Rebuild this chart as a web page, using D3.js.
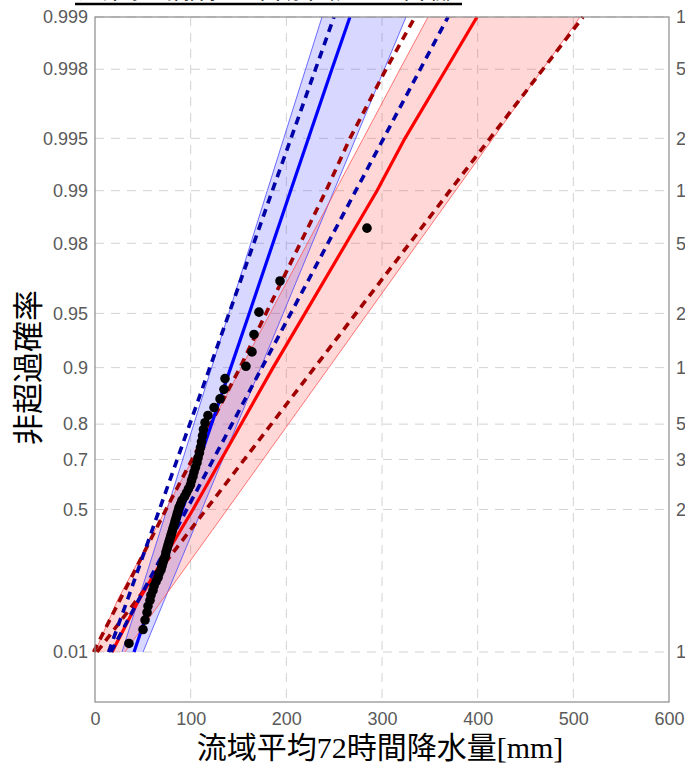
<!DOCTYPE html>
<html>
<head>
<meta charset="utf-8">
<script src="https://cdn.jsdelivr.net/npm/d3@7"></script>
<style>
  html, body { margin: 0; padding: 0; background: #fff; }
  svg { display: block; }
</style>
</head>
<body>
<svg id="chart" width="685" height="764"></svg>
<script>
// Non-exceedance probability levels at which the fitted curves are given
const probLevels = [0.01, 0.1, 0.5, 0.9, 0.95, 0.99, 0.995, 0.998, 0.999];

// Blue fit: central line, dashed pair, confidence band
const blueCenter  = [40.8, 59.3, 91.4, 141.9, 161.2, 204.5, 223.1, 247.6, 266.5];
const blueDashLo  = [14.2, 33.9, 67.4, 120.0, 140.1, 185.4, 204.9, 230.5, 249.8];
const blueDashHi  = [16.7, 45.6, 95.9, 174.5, 204.6, 272.6, 301.7, 340.0, 369.0];
const blueBandLo  = [28.2, 45.4, 75.2, 121.9, 139.8, 180.1, 197.3, 220.1, 237.3];
const blueBandHi  = [50.2, 72.6, 111.8, 173.2, 196.7, 249.8, 272.5, 302.4, 325.1];

// Red fit: central line, dashed pair, confidence band
const redCenter   = [17.8, 45.9, 102.4, 186.1, 219.5, 294.8, 324.0, 366.9, 399.3];
const redDashLo   = [-1.5, 26.1, 74.2, 151.6, 178.7, 241.5, 266.5, 304.2, 334.5];
const redDashHi   = [2.1, 43.7, 116.1, 229.5, 272.8, 371.0, 412.9, 468.2, 510.1];
const redBandLo   = [0.0, 23.7, 74.1, 152.9, 183.0, 251.3, 280.5, 318.8, 348.1];
const redBandHi   = [31.4, 70.3, 138.2, 244.4, 284.9, 376.8, 416.1, 467.9, 507.0];

// Observed annual maxima (sorted), plotted at i/(N+1)
const observed = [
  35.5, 50.2, 52.3, 54.4, 55.4, 57.5, 58.5, 60.6, 61.7, 63.8,
  65.9, 66.9, 69.0, 70.0, 71.1, 72.1, 73.7, 74.2, 75.3, 76.3,
  77.3, 78.4, 79.4, 80.5, 81.5, 82.6, 83.6, 84.7, 85.7, 86.8,
  87.8, 89.4, 90.9, 93.6, 95.6, 97.7, 99.8, 100.9, 102.4, 103.5,
  105.0, 106.6, 107.7, 109.2, 110.3, 111.3, 112.4, 113.4, 115.0, 118.1,
  124.4, 130.7, 134.8, 135.9, 157.8, 164.1, 166.2, 171.4, 193.4, 284.3
];

// Axis ticks
const probTicks = [0.01, 0.5, 0.7, 0.8, 0.9, 0.95, 0.98, 0.99, 0.995, 0.998, 0.999];
const probTickLabels = ["0.01", "0.5", "0.7", "0.8", "0.9", "0.95", "0.98", "0.99", "0.995", "0.998", "0.999"];
const returnPeriodLabels = ["1.01", "2", "3.3", "5", "10", "20", "50", "100", "200", "500", "1000"];
const xTicks = [0, 100, 200, 300, 400, 500, 600];

const titleText = "流域平均72時間降水量の確率分布（グンベル確率紙）";
const yTitle = "非超過確率";
const xTitle = "流域平均72時間降水量[mm]";

// Gumbel reduced variate
const gumbel = p => -Math.log(-Math.log(p));

const svg = d3.select("#chart");
const plotL = 95, plotR = 669, plotT = 17, plotB = 702;

const x = d3.scaleLinear().domain([0, 600]).range([plotL, plotR]);
const g = d3.scaleLinear().domain([-2.191, gumbel(0.999)]).range([plotB, plotT]);
const y = p => g(gumbel(p));

const tickFont = "'Liberation Sans', Arial, sans-serif";

// Grid
const grid = svg.append("g").attr("stroke", "#d2d2d2").attr("stroke-width", 1)
  .attr("stroke-dasharray", "9,7");
grid.selectAll("line.h").data(probTicks).join("line").attr("class", "h")
  .attr("x1", plotL).attr("x2", plotR)
  .attr("y1", d => y(d)).attr("y2", d => y(d));
grid.selectAll("line.v").data(xTicks.slice(1, -1)).join("line").attr("class", "v")
  .attr("x1", d => x(d)).attr("x2", d => x(d))
  .attr("y1", plotT).attr("y2", plotB);

// Bands
function band(lo, hi) {
  const pts = probLevels.map((p, i) => ({ p, lo: lo[i], hi: hi[i] }));
  return d3.area().x0(d => x(d.lo)).x1(d => x(d.hi)).y(d => y(d.p))(pts);
}
svg.append("path").attr("d", band(blueBandLo, blueBandHi))
  .attr("fill", "rgba(40,40,255,0.19)").attr("stroke", "none");
svg.append("path").attr("d", band(redBandLo, redBandHi))
  .attr("fill", "rgba(255,40,40,0.19)").attr("stroke", "none");

const lineGen = vals => d3.line().x(d => x(d[0])).y(d => y(d[1]))(vals.map((v, i) => [v, probLevels[i]]));

// Band outlines
[[blueBandLo, "#4a4aff"], [blueBandHi, "#4a4aff"], [redBandLo, "#ff5555"], [redBandHi, "#ff5555"]]
  .forEach(([vals, c]) => svg.append("path").attr("d", lineGen(vals))
    .attr("fill", "none").attr("stroke", c).attr("stroke-width", 0.8));

// Fitted lines
function drawLine(vals, color, width, dash) {
  const p = svg.append("path").attr("d", lineGen(vals))
    .attr("fill", "none").attr("stroke", color).attr("stroke-width", width);
  if (dash) p.attr("stroke-dasharray", dash);
}
drawLine(redDashLo, "#a00000", 3.6, "8,6");
drawLine(redDashHi, "#a00000", 3.6, "8,6");
drawLine(redCenter, "#ff0000", 3.2);
drawLine(blueDashLo, "#0000a8", 3.6, "8,6");
drawLine(blueDashHi, "#0000a8", 3.6, "8,6");
drawLine(blueCenter, "#0000ff", 3.2);

// Observations
const N = observed.length;
svg.append("g").selectAll("circle").data(observed).join("circle")
  .attr("cx", d => x(d)).attr("cy", (d, i) => y((i + 1) / (N + 1)))
  .attr("r", 4.8).attr("fill", "#000");

// Frame
svg.append("rect").attr("x", plotL).attr("y", plotT)
  .attr("width", plotR - plotL).attr("height", plotB - plotT)
  .attr("fill", "none").attr("stroke", "#8a8a8a").attr("stroke-width", 1.2);

// Axes
const gTicks = probTicks.map(gumbel);
const axL = svg.append("g").attr("transform", `translate(${plotL},0)`)
  .call(d3.axisLeft(g).tickValues(gTicks).tickSize(0).tickPadding(7)
    .tickFormat((d, i) => probTickLabels[i]));
const axR = svg.append("g").attr("transform", `translate(${plotR},0)`)
  .call(d3.axisRight(g).tickValues(gTicks).tickSize(0).tickPadding(7)
    .tickFormat((d, i) => returnPeriodLabels[i]));
const axB = svg.append("g").attr("transform", `translate(0,${plotB})`)
  .call(d3.axisBottom(x).tickValues(xTicks).tickSize(0).tickPadding(10));
[axL, axR, axB].forEach(a => {
  a.select(".domain").remove();
  a.selectAll("text").attr("font-family", tickFont).attr("font-size", 18).attr("fill", "#5a5a5a");
});

// Axis titles
svg.append("text")
  .attr("transform", `translate(39,${(plotT + plotB) / 2 + 8}) rotate(-90)`)
  .attr("text-anchor", "middle")
  .attr("font-family", "'Noto Sans CJK JP', sans-serif").attr("font-size", 31)
  .attr("fill", "#000").text(yTitle);
svg.append("text")
  .attr("x", 380).attr("y", 758).attr("text-anchor", "middle")
  .attr("font-family", "'Liberation Serif', 'Noto Sans CJK JP', serif").attr("font-size", 30)
  .attr("fill", "#000").text(xTitle);

// Title (underlined)
svg.append("text")
  .attr("x", 75).attr("y", -2.5).attr("textLength", 387).attr("lengthAdjust", "spacingAndGlyphs")
  .attr("font-family", "'Noto Sans CJK JP', sans-serif").attr("font-size", 22)
  .attr("font-weight", "bold").attr("fill", "#000").text(titleText);
svg.append("line").attr("x1", 75).attr("x2", 462).attr("y1", 4).attr("y2", 4)
  .attr("stroke", "#000").attr("stroke-width", 2.5);
</script>
</body>
</html>
